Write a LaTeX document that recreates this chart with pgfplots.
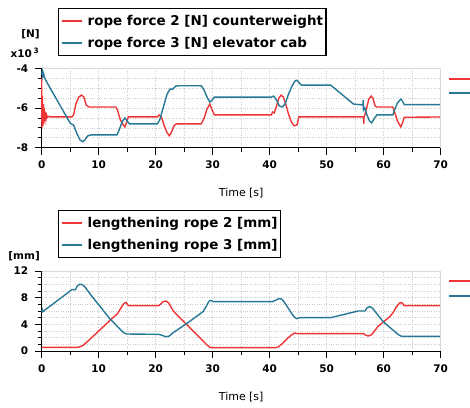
\documentclass[border=0pt]{standalone}
\usepackage{pgfplots}
\pgfplotsset{compat=1.18}
\usepackage{fontspec}
\setmainfont{DejaVu Sans}
\definecolor{cred}{RGB}{238,52,52}
\definecolor{cblue}{RGB}{38,120,150}
\pgfplotsset{
  myaxis/.style={
    scale only axis, width=399bp,
    xmin=0, xmax=70, xtick={0,10,...,70}, minor x tick num=1,
    axis x line*=bottom, axis y line*=left,
    axis line style={black, line width=1bp},
    tick align=outside,
    major tick length=7bp, minor tick length=4bp,
    tick style={black, line width=0.8bp},
    grid=both,
    major grid style={dotted, gray!40, line width=0.6bp},
    minor grid style={dotted, gray!40, line width=0.6bp},
    /pgf/number format/assume math mode=true,
    ticklabel style={font=\bfseries\fontsize{10.5}{12}\selectfont},
    xticklabel style={yshift=-3bp},
    yticklabel style={xshift=-3bp},
    clip=false,
    legend cell align=left,
    legend style={draw=black, line width=1.2bp, font=\bfseries\fontsize{13.5}{15}\selectfont, anchor=north west, inner xsep=2bp, inner ysep=6bp, row sep=7.5bp, nodes={inner sep=1bp}, column sep=0bp, /tikz/every odd column/.append style={column sep=4bp}},
    legend image code/.code={\draw[#1, line width=2bp] (0bp,0bp) -- (20bp,0bp);},
    every axis plot/.append style={line width=1.4bp},
  }
}
\begin{document}
\begin{tikzpicture}
\useasboundingbox (0bp,0bp) rectangle (470bp,-408bp);
% ---------------- top axis ----------------
\begin{axis}[myaxis, name=top,
  at={(41.7bp,-147.7bp)}, anchor=south west, height=79.4bp,
  ymin=-8000, ymax=-4000, ytick={-8000,-6000,-4000}, yticklabels={-8,-6,-4},
  minor y tick num=3,
  legend style={at={(axis description cs:0.041,1.759)}},
]
\addplot[cred] coordinates {
(0,-4500) (0.05,-7000) (0.12,-5400) (0.2,-6900) (0.28,-5800) (0.36,-6800) (0.45,-6000) (0.55,-6650) (0.65,-6200) (0.75,-6550) (0.85,-6350) (1.0,-6480) (1.2,-6420) (1.5,-6450)
(5.3,-6450) (5.6,-6350) (6.0,-5800) (6.5,-5450) (7.0,-5350) (7.4,-5450) (7.8,-5850) (8.3,-5950)
(13.0,-5950) (13.3,-6100) (13.8,-6600) (14.3,-6850) (14.6,-6950) (14.9,-6700) (15.2,-6450)
(20.3,-6450) (20.6,-6350) (21.0,-6450) (21.5,-6900) (22.0,-7250) (22.4,-7400) (22.8,-7200) (23.2,-6900) (23.6,-6800)
(28.0,-6800) (28.5,-6500) (29.0,-6050) (29.5,-5800) (29.9,-6100) (30.3,-6350)
(40.3,-6350) (40.5,-6200) (40.8,-6250) (41.2,-5900) (41.6,-5500) (42.0,-5350) (42.4,-5450) (42.8,-5800) (43.3,-6300) (43.8,-6700) (44.3,-6900) (44.8,-6850) (45.1,-6450)
(56.45,-6450) (56.5,-6800) (56.55,-6450) (56.7,-6350) (57.0,-6000) (57.4,-5550) (57.8,-5400) (58.1,-5500) (58.5,-5900) (58.8,-5950)
(61.6,-5950) (61.9,-6200) (62.4,-6650) (63.0,-6950) (63.3,-6750) (63.6,-6470) (70,-6450)
};
\addlegendentry{rope force 2 [N] counterweight}
\addplot[cblue] coordinates {
(0,-4300) (0.1,-4150) (0.2,-4400) (0.3,-4250) (0.6,-4550) (5.0,-6770) (5.6,-6860) (6.2,-7300) (6.7,-7600) (7.2,-7700) (7.6,-7600) (8.1,-7400) (8.8,-7350)
(13.2,-7350) (13.6,-7100) (14.1,-6700) (14.6,-6500) (15.0,-6650) (15.4,-6800)
(20.3,-6800) (20.7,-6600) (21.0,-6300) (21.5,-5800) (22.0,-5300) (22.5,-5050) (23.0,-5050) (23.5,-4900) (24.0,-4880)
(28.0,-4880) (28.5,-5100) (29.0,-5450) (29.5,-5700) (29.9,-5600) (30.3,-5450)
(40.3,-5450) (40.7,-5400) (41.2,-5600) (41.7,-5900) (42.2,-5950) (42.7,-5800) (43.3,-5300) (43.9,-4900) (44.4,-4650) (44.8,-4600) (45.2,-4750) (45.6,-4850)
(50.7,-4850) (54.7,-5800) (56.35,-5850) (56.4,-5600) (56.45,-6100) (56.7,-6000) (57.0,-6300) (57.5,-6650) (57.9,-6750) (58.3,-6550) (58.8,-6350)
(61.6,-6350) (61.9,-6100) (62.4,-5750) (63.0,-5550) (63.3,-5650) (63.6,-5830) (70,-5830)
};
\addlegendentry{rope force 3 [N] elevator cab}
\draw[gray!30, line width=1bp] (rel axis cs:0,1) -- (rel axis cs:1,1) -- (rel axis cs:1,0);
\node[font=\bfseries\fontsize{10.5}{12}\selectfont] at (axis description cs:-0.028,1.432) {[N]};
\node[font=\bfseries\fontsize{10.5}{12}\selectfont] at (axis description cs:-0.042,1.193) {x10\,\textsuperscript{3}};
\node[font=\fontsize{11}{13}\selectfont] at (axis description cs:0.5,-0.571) {Time [s]};
\end{axis}
% ---------------- bottom axis ----------------
\begin{axis}[myaxis, name=bot,
  at={(41.7bp,-351bp)}, anchor=south west, height=80bp,
  ymin=0, ymax=12, ytick={0,4,8,12},
  minor y tick num=3,
  legend style={at={(axis description cs:0.041,1.7625)}},
]
\addplot[cred] coordinates {
(0,0.55) (6.2,0.55) (6.6,0.6) (7.2,0.8) (8,1.4) (10,3.0) (12,4.6) (13.3,5.6) (13.8,6.3) (14.4,7.1) (14.8,7.3) (15.2,6.8)
(20.5,6.8) (20.8,7.0) (21.3,7.4) (21.8,7.5) (22.3,7.2) (22.8,6.4) (23.3,5.8) (29.0,0.9) (29.6,0.5)
(41.0,0.5) (41.5,0.6) (42.2,1.1) (43.0,1.8) (43.8,2.4) (44.4,2.7) (44.9,2.6)
(56.5,2.6) (56.8,2.4) (57.3,2.25) (57.8,2.4) (58.3,2.9) (59.0,3.7) (60.0,4.4) (61.0,5.1) (61.6,5.7) (62.2,6.6) (62.8,7.2) (63.2,7.25) (63.6,6.8) (70,6.8)
};
\addlegendentry{lengthening rope 2 [mm]}
\addplot[cblue] coordinates {
(0,5.8) (0.1,6.2) (0.2,5.9) (0.5,6.1) (5.3,9.2) (5.9,9.2) (6.2,9.7) (6.6,10.0) (7.0,10.0) (7.5,9.7) (9,8.0) (12,4.8) (14.3,2.8) (14.8,2.55)
(20.5,2.5) (21.0,2.4) (21.7,2.15) (22.3,2.2) (23,2.7) (25.4,4.1) (28.3,5.9) (28.8,6.6) (29.3,7.4) (29.6,7.6) (30.2,7.4)
(40.5,7.4) (41.0,7.6) (41.6,7.85) (42.1,7.8) (42.5,7.4) (44.2,5.2) (44.7,4.85) (45.3,5.0)
(50.7,5.0) (55.5,6.0) (56.7,6.0) (57.1,6.5) (57.6,6.65) (58.0,6.45) (59.9,4.4) (62.5,2.5) (63.0,2.25) (63.3,2.2) (70,2.2)
};
\addlegendentry{lengthening rope 3 [mm]}
\draw[gray!30, line width=1bp] (rel axis cs:0,1) -- (rel axis cs:1,1) -- (rel axis cs:1,0);
\node[font=\bfseries\fontsize{10.5}{12}\selectfont] at (axis description cs:-0.044,1.1875) {[mm]};
\node[font=\fontsize{11}{13}\selectfont] at (axis description cs:0.5,-0.575) {Time [s]};
\end{axis}
% cut-off right-hand legend stubs
\draw[cred, line width=2bp] (449bp,-78.5bp) -- (475bp,-78.5bp);
\draw[cblue, line width=2bp] (449bp,-93.3bp) -- (475bp,-93.3bp);
\draw[cred, line width=2bp] (449bp,-281bp) -- (475bp,-281bp);
\draw[cblue, line width=2bp] (449bp,-296bp) -- (475bp,-296bp);
\end{tikzpicture}
\end{document}
